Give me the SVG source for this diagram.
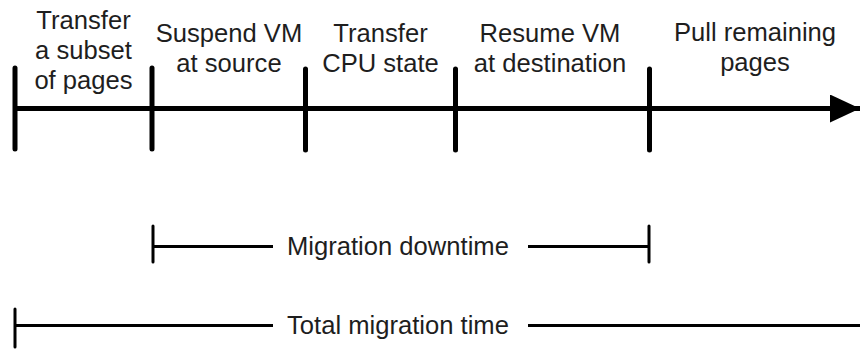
<svg xmlns="http://www.w3.org/2000/svg" width="860" height="349" viewBox="0 0 860 349">
  <style>
    .lbl { font-family: "Liberation Sans", Arial, sans-serif; font-size: 25.6px; fill: #1e1e1e; text-anchor: middle; }
    .span-lbl { font-family: "Liberation Sans", Arial, sans-serif; font-size: 25.6px; fill: #1e1e1e; }
    .axis { stroke: #000; stroke-width: 5; fill: none; }
    .tick { stroke: #000; stroke-width: 5; stroke-linecap: round; }
    .span { stroke: #000; stroke-width: 3; fill: none; }
    .span-tick { stroke: #000; stroke-width: 3; stroke-linecap: round; }
  </style>
  <defs>
    <marker id="arrow" markerUnits="userSpaceOnUse" markerWidth="32" markerHeight="28" refX="30" refY="14" orient="auto">
      <path d="M0,0 L30,14 L0,28 Z" fill="#000"/>
    </marker>
  </defs>
  <rect width="860" height="349" fill="#fff"/>

  <!-- timeline axis and phase boundaries -->
  <g id="connectors">
    <line class="axis" x1="15" y1="108.5" x2="860" y2="108.5" marker-end="url(#arrow)"/>
    <line class="tick" x1="15" y1="68" x2="15" y2="149"/>
    <line class="tick" x1="152" y1="68" x2="152" y2="149"/>
    <line class="tick" x1="305.5" y1="69" x2="305.5" y2="150"/>
    <line class="tick" x1="455.5" y1="69" x2="455.5" y2="150"/>
    <line class="tick" x1="649.5" y1="69" x2="649.5" y2="150"/>

    <!-- downtime span -->
    <line class="span" x1="153" y1="246.5" x2="273" y2="246.5"/>
    <line class="span" x1="528" y1="246.5" x2="649" y2="246.5"/>
    <line class="span-tick" x1="153" y1="226" x2="153" y2="262"/>
    <line class="span-tick" x1="649" y1="226" x2="649" y2="262"/>

    <!-- total span -->
    <line class="span" x1="15" y1="325.5" x2="273" y2="325.5"/>
    <line class="span" x1="528" y1="325.5" x2="860" y2="325.5"/>
    <line class="span-tick" x1="15" y1="309" x2="15" y2="347"/>
  </g>

  <g id="phase-transfer-subset">
    <text class="lbl" x="83.5" y="28.5">Transfer</text>
    <text class="lbl" x="83.5" y="58.5">a subset</text>
    <text class="lbl" x="83.5" y="88.5">of pages</text>
  </g>
  <g id="phase-suspend">
    <text class="lbl" x="229" y="41.5">Suspend VM</text>
    <text class="lbl" x="229" y="71.5">at source</text>
  </g>
  <g id="phase-cpu">
    <text class="lbl" x="380.5" y="41.5">Transfer</text>
    <text class="lbl" x="380.5" y="71.5">CPU state</text>
  </g>
  <g id="phase-resume">
    <text class="lbl" x="550" y="41.5">Resume VM</text>
    <text class="lbl" x="550" y="71.5">at destination</text>
  </g>
  <g id="phase-pull">
    <text class="lbl" x="755" y="41">Pull remaining</text>
    <text class="lbl" x="755" y="71">pages</text>
  </g>

  <g id="downtime-label">
    <text class="span-lbl" x="287" y="255">Migration downtime</text>
  </g>
  <g id="total-label">
    <text class="span-lbl" x="287" y="333.5">Total migration time</text>
  </g>
</svg>
